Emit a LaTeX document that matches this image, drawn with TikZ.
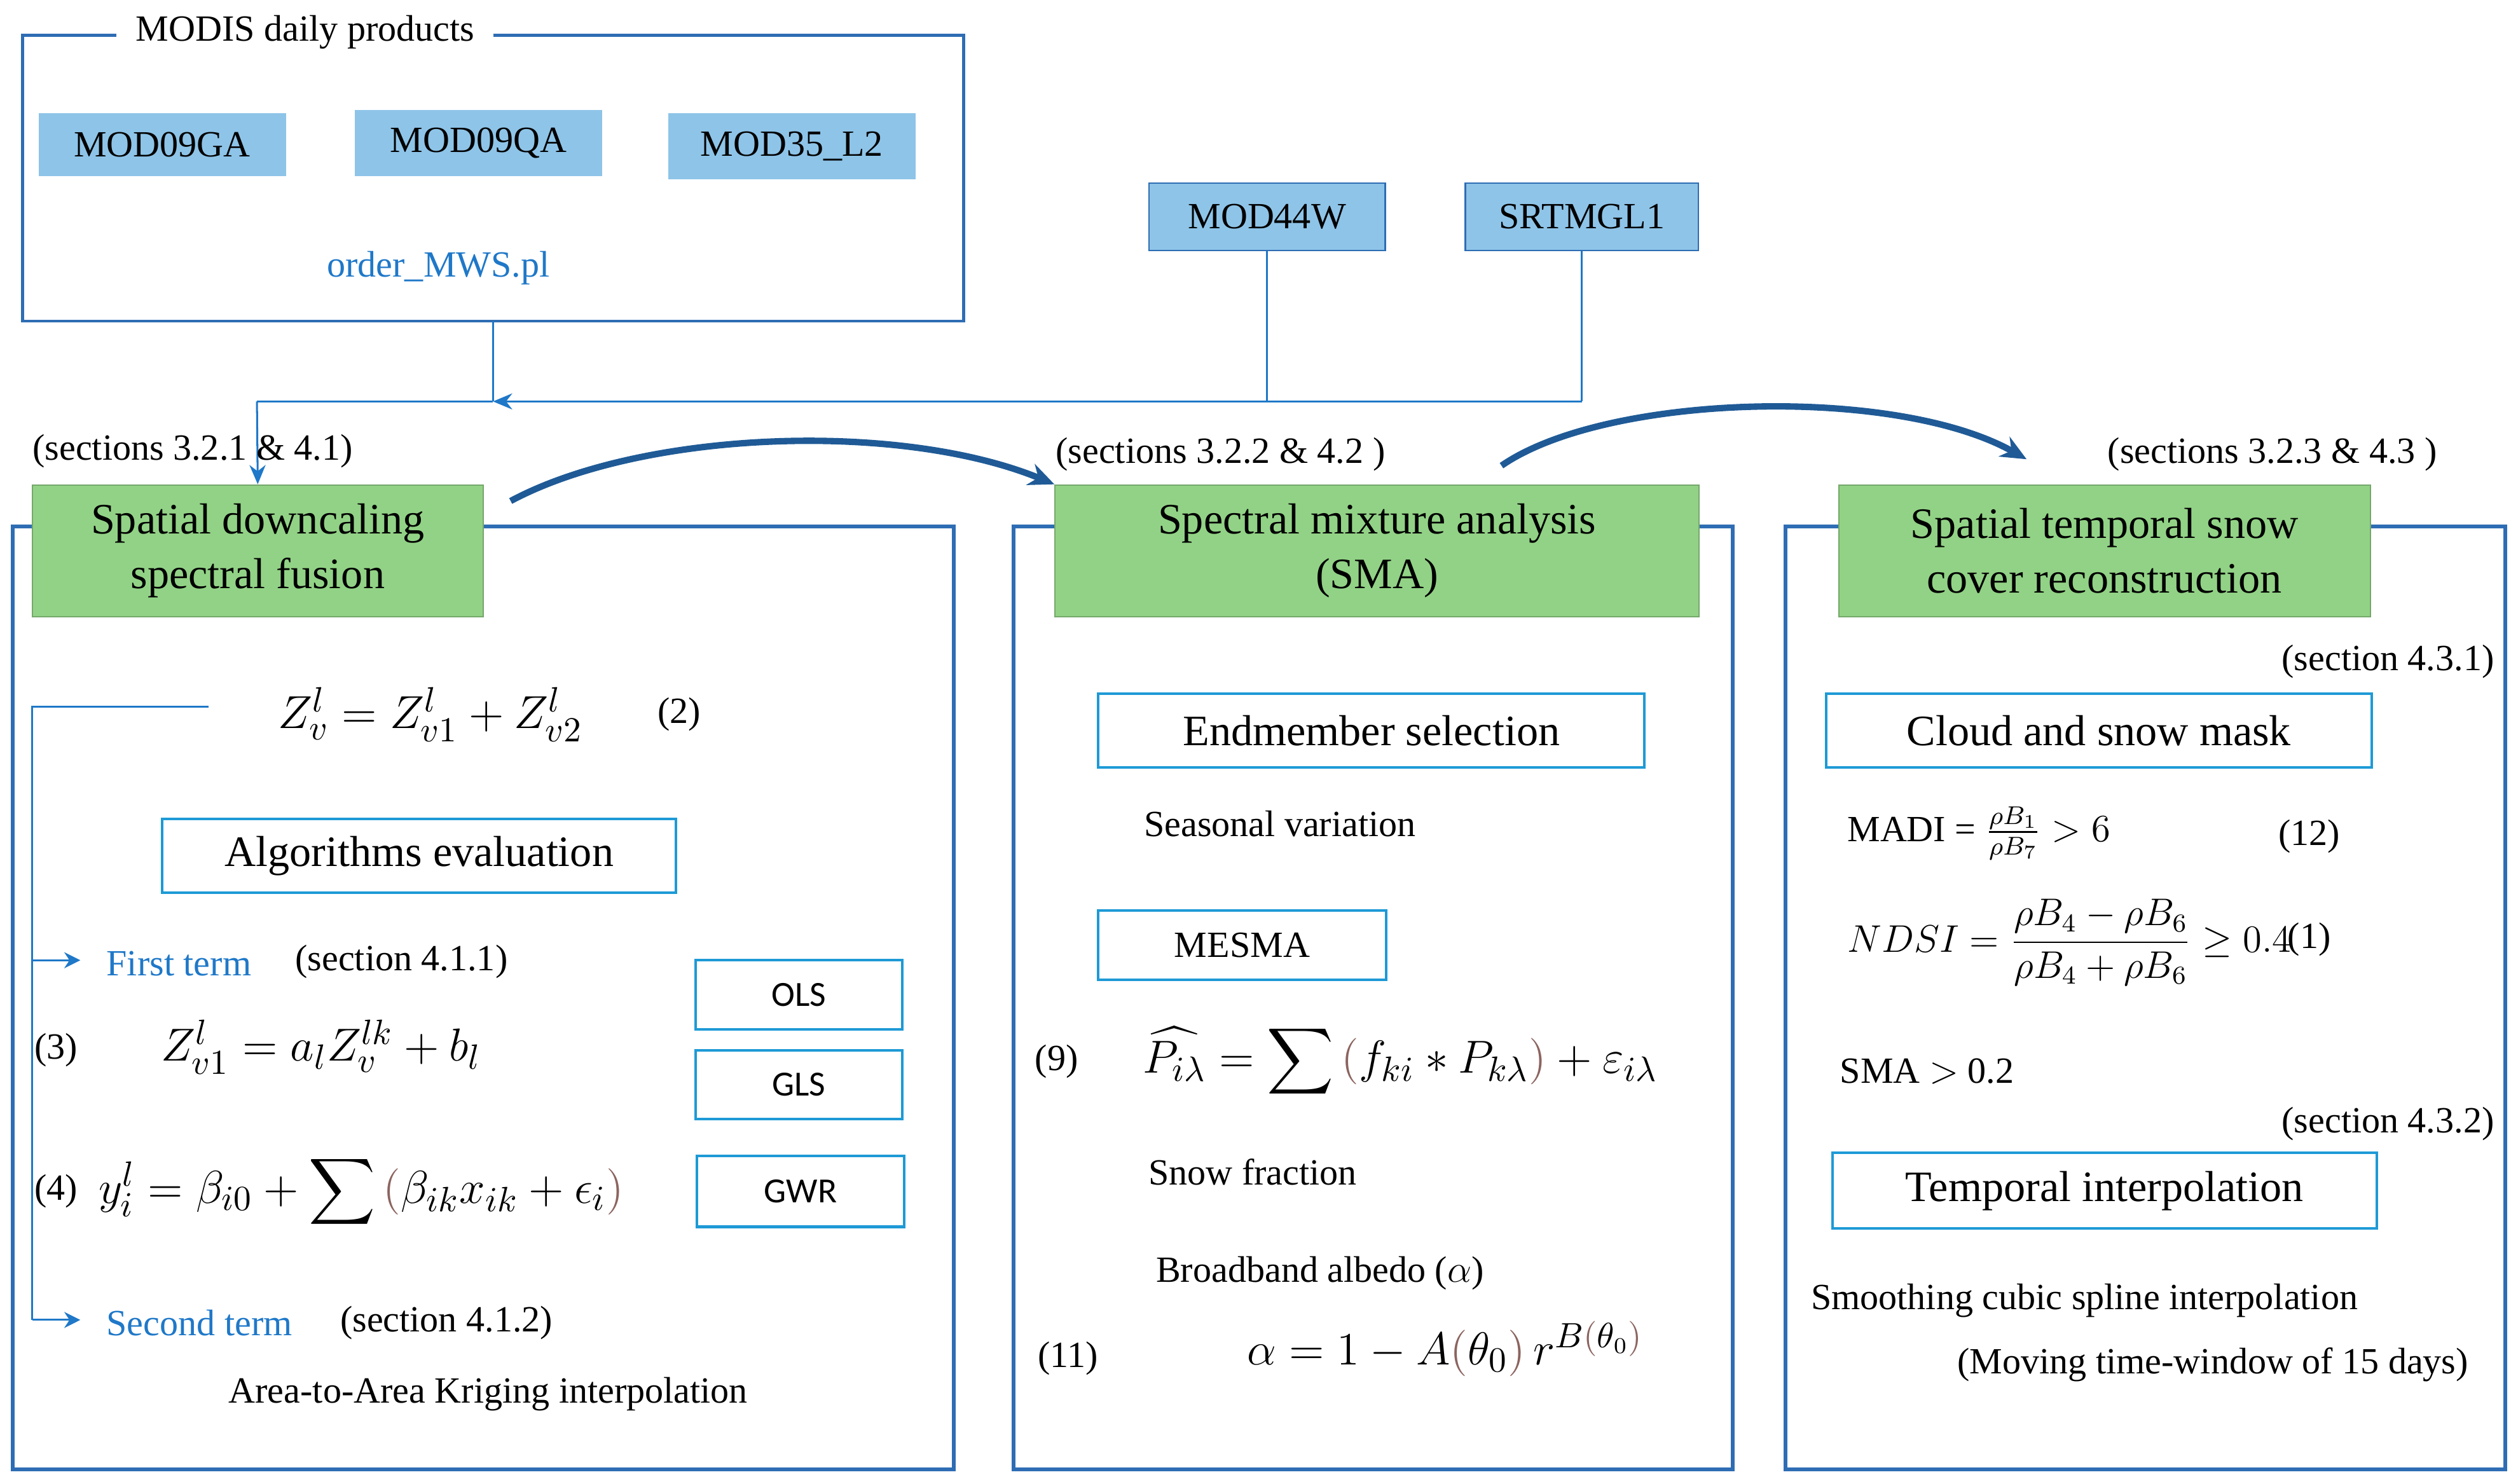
\documentclass[tikz,border=0pt]{standalone}
\usepackage{amsmath}
\usepackage{fontspec}
\setmainfont{Liberation Serif}
\newfontfamily\carlitofont{Carlito}
\usetikzlibrary{arrows.meta}
\definecolor{pbl}{RGB}{46,109,180}
\definecolor{lbl}{RGB}{30,154,214}
\definecolor{fillb}{RGB}{142,196,232}
\definecolor{grn}{RGB}{146,210,134}
\definecolor{tb}{RGB}{31,120,200}
\definecolor{dblue}{RGB}{31,90,150}
\definecolor{br}{RGB}{140,100,95}
\tikzset{
 panel/.style={draw=pbl,line width=1.2pt},
 prod/.style={fill=fillb,draw=none,font=\fontsize{11.5}{13}\selectfont,inner sep=0},
 prod2/.style={fill=fillb,draw=pbl,line width=0.5pt,font=\fontsize{11.5}{13}\selectfont,inner sep=0},
 gbox/.style={fill=grn,draw=grn!80!black,line width=0.4pt,font=\fontsize{13.5}{17}\selectfont,align=center,inner sep=0},
 sbox/.style={draw=lbl,line width=0.8pt,font=\fontsize{13.5}{15}\selectfont,inner sep=0},
 mbox/.style={draw=lbl,line width=0.8pt,font=\carlitofont\fontsize{11}{13}\selectfont,inner sep=0},
 txt/.style={font=\fontsize{11.5}{13}\selectfont,inner sep=0},
 btxt/.style={font=\fontsize{11.5}{13}\selectfont,text=tb,inner sep=0},
 eq/.style={font=\fontsize{15}{18}\selectfont,inner sep=0},
 conn/.style={draw=tb,line width=0.6pt},
 carr/.style={draw=dblue,line width=2pt,-{Stealth[length=8pt,width=7pt]}},
}
\begin{document}
\begin{tikzpicture}[x=0.5pt,y=-0.5pt]
\useasboundingbox (0,0) rectangle (1568,924);
% MODIS box
\draw[panel,line width=0.9pt] (14,22) rectangle (600,200);
\node[txt,fill=white,inner xsep=6pt] (modt) at (190,20) {MODIS daily products};
\node[prod,minimum width=77pt,minimum height=19.5pt] (m1) at (101,90) {MOD09GA};
\node[prod,minimum width=77pt,minimum height=20.5pt] (m2) at (298,89) {MOD09QA};
\node[prod,minimum width=77pt,minimum height=20.5pt] (m3) at (493,91) {MOD35\_L2};
\node[btxt] (ord) at (273,167) {order\_MWS.pl};
\node[prod2,minimum width=73.5pt,minimum height=21pt] (w) at (789,135) {MOD44W};
\node[prod2,minimum width=72.5pt,minimum height=21pt] (s) at (985,135) {SRTMGL1};
\coordinate (mb) at (307,200);
\coordinate (j0) at (307,250);
\coordinate (jw) at (789,250);
\coordinate (js) at (985,250);
\coordinate (jl) at (160,250);
\draw[conn] (mb) -- (j0);
\draw[conn] (w.south) -- (jw);
\draw[conn] (s.south) -- (js);
\draw[conn,-{Stealth[length=6pt,width=5pt]}] (js) -- (j0);
\draw[conn] (j0) -- (jl);
% panels
\draw[panel] (8,328) rectangle (594,915);
\draw[panel] (631,328) rectangle (1079,915);
\draw[panel] (1112,328) rectangle (1560,915);
\node[gbox,minimum width=140.5pt,minimum height=41pt] (g1) at (160.5,343) {Spatial downcaling\\spectral fusion};
\node[gbox,minimum width=200.5pt,minimum height=41pt] (g2) at (857.5,343) {Spectral mixture analysis\\(SMA)};
\node[gbox,minimum width=165.5pt,minimum height=41pt] (g3) at (1310.5,343) {Spatial temporal snow\\cover reconstruction};
\draw[conn,-{Stealth[length=6pt,width=5pt]}] (jl) -- (g1.north);
\node[txt] (l1) at (120,281) {(sections 3.2.1 \& 4.1)};
\node[txt] (l2) at (760,283) {(sections 3.2.2 \& 4.2 )};
\node[txt] (l3) at (1415,283) {(sections 3.2.3 \& 4.3 )};
\coordinate (a1s) at (318,312);
\coordinate (a2s) at (935,290);
\coordinate (a2e) at (1262,286);
\draw[carr] (a1s) .. controls (400,268) and (560,262) .. (g2.north west);
\draw[carr] (a2s) .. controls (1000,245) and (1180,240) .. (a2e);
% panel 1
\node[eq] (e2) at (268,445) {$Z_v^l = Z_{v1}^l + Z_{v2}^l$};
\node[txt] (n2) at (423,445) {(2)};
\coordinate (b0) at (130,440);
\coordinate (b1) at (20,440);
\coordinate (b2) at (20,822);
\coordinate (b3) at (20,598);
\coordinate (f1) at (50,598);
\coordinate (f2) at (50,822);
\draw[conn] (b0) -- (b1) -- (b2);
\node[btxt,anchor=west] (ft) at (66,600) {First term};
\node[txt] (s411) at (250,599) {(section 4.1.1)};
\node[btxt,anchor=west] (st) at (66,824) {Second term};
\node[txt] (s412) at (278,824) {(section 4.1.2)};
\draw[conn,-{Stealth[length=5pt,width=5pt]}] (b3) -- (f1);
\draw[conn,-{Stealth[length=5pt,width=5pt]}] (b2) -- (f2);
\node[sbox,minimum width=160pt,minimum height=23pt] (ae) at (261,533) {Algorithms evaluation};
\node[mbox,minimum width=64.5pt,minimum height=21.5pt] (ols) at (497.5,619.5) {OLS};
\node[mbox,minimum width=64.5pt,minimum height=21.5pt] (gls) at (497.5,675.5) {GLS};
\node[mbox,minimum width=64.5pt,minimum height=22pt] (gwr) at (498.5,742) {GWR};
\node[txt] (n3) at (35,654) {(3)};
\node[eq] (e3) at (200,652) {$Z_{v1}^l = a_l Z_v^{lk} + b_l$};
\node[txt] (n4) at (35,742) {(4)};
\node[eq] (e4) at (225,742) {$y_i^l = \beta_{i0} + \displaystyle\sum \textcolor{br}{(}\beta_{ik}x_{ik} + \epsilon_i\textcolor{br}{)}$};
\node[txt] (kr) at (304,868) {Area-to-Area Kriging interpolation};
% panel 2
\node[sbox,minimum width=170pt,minimum height=23pt] (es) at (854,455) {Endmember selection};
\node[txt] (sv) at (797,513) {Seasonal variation};
\node[sbox,font=\fontsize{11.5}{13}\selectfont,minimum width=89.5pt,minimum height=21.5pt] (me) at (773.5,588.5) {MESMA};
\node[txt] (n9) at (658,661) {(9)};
\node[eq] (e9) at (872,661) {$\widehat{P_{i\lambda}} = \displaystyle\sum \textcolor{br}{(}f_{ki} * P_{k\lambda}\textcolor{br}{)} + \varepsilon_{i\lambda}$};
\node[txt] (sf) at (780,730) {Snow fraction};
\node[txt] (ba) at (822,793) {Broadband albedo ($\alpha$)};
\node[txt] (n11) at (665,846) {(11)};
\node[eq] (e11) at (900,840) {$\alpha = 1 - A\textcolor{br}{(}\theta_0\textcolor{br}{)}\, r^{B\textcolor{br}{(}\theta_0\textcolor{br}{)}}$};
% panel 3
\node[txt] (s431) at (1487,412) {(section 4.3.1)};
\node[sbox,minimum width=170pt,minimum height=23pt] (cs) at (1307,455) {Cloud and snow mask};
\node[txt,anchor=west] (madi) at (1150,519) {MADI = $\frac{\rho B_1}{\rho B_7} > 6$};
\node[txt] (n12) at (1438,521) {(12)};
\node[txt,anchor=west] (ndsi) at (1150,587) {$NDSI = \dfrac{\rho B_4 - \rho B_6}{\rho B_4 + \rho B_6} \geq 0.4$};
\node[txt] (n1) at (1438,585) {(1)};
\node[txt] (sma) at (1200,667) {SMA $>$ 0.2};
\node[txt] (s432) at (1487,700) {(section 4.3.2)};
\node[sbox,minimum width=169.5pt,minimum height=23.5pt] (ti) at (1310.5,741.5) {Temporal interpolation};
\node[txt] (sc) at (1298,810) {Smoothing cubic spline interpolation};
\node[txt] (mw) at (1378,850) {(Moving time-window of 15 days)};
\end{tikzpicture}
\end{document}
